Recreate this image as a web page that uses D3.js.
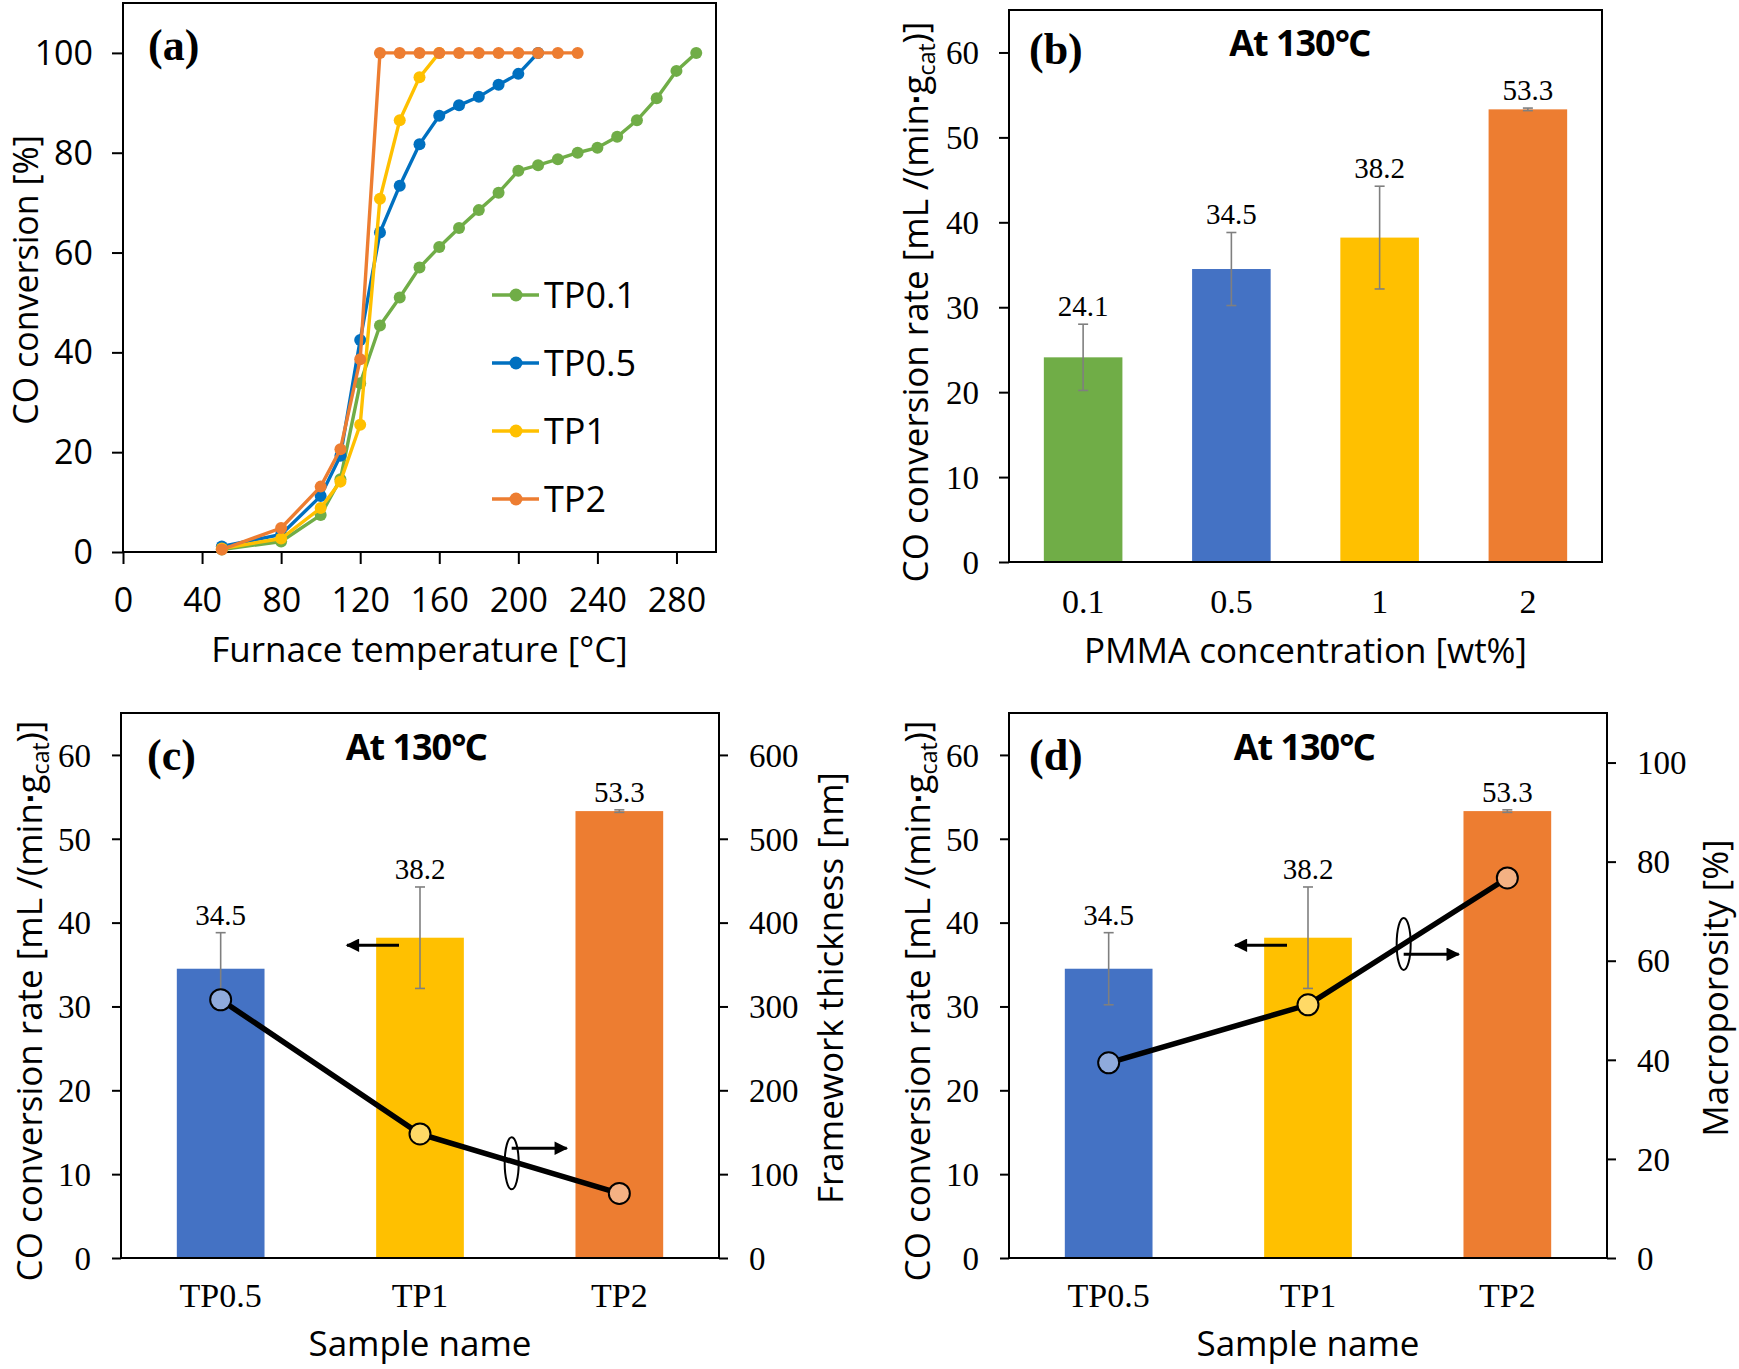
<!DOCTYPE html>
<html lang="en">
<head>
<meta charset="UTF-8">
<title>CO conversion</title>
<script src="https://cdn.jsdelivr.net/npm/d3@7"></script>
<style>
  body { margin: 0; background: #fff; }
  svg { display: block; }
</style>
</head>
<body>
<svg id="chart" width="1739" height="1369"></svg>
<script>
// ---- panel (a): CO conversion vs furnace temperature ----
const seriesNames = ['TP0.1', 'TP0.5', 'TP1', 'TP2'];
const tempTP01 = [50, 80, 100, 110, 120, 130, 140, 150, 160, 170, 180, 190, 200, 210, 220, 230, 240, 250, 260, 270, 280, 290];
const convTP01 = [0.5, 2.1, 7.4, 14.6, 33.8, 45.4, 51.0, 57.0, 61.1, 64.9, 68.5, 72.0, 76.4, 77.5, 78.7, 80.0, 81.0, 83.2, 86.5, 90.9, 96.4, 100];
const tempTP05 = [50, 80, 100, 110, 120, 130, 140, 150, 160, 170, 180, 190, 200, 210];
const convTP05 = [1.1, 3.5, 11.2, 19.3, 42.5, 64.0, 73.4, 81.7, 87.4, 89.5, 91.2, 93.6, 95.8, 100];
const tempTP1 = [50, 80, 100, 110, 120, 130, 140, 150, 160];
const convTP1 = [0.7, 2.7, 8.8, 14.1, 25.5, 70.8, 86.5, 95.1, 100];
const tempTP2 = [50, 80, 100, 110, 120, 130, 140, 150, 160, 170, 180, 190, 200, 210, 220, 230];
const convTP2 = [0.5, 4.8, 13.1, 20.6, 38.6, 100, 100, 100, 100, 100, 100, 100, 100, 100, 100, 100];
const tempTicks = [0, 40, 80, 120, 160, 200, 240, 280];
const convTicks = [0, 20, 40, 60, 80, 100];

// ---- panel (b): rate vs PMMA concentration ----
const pmmaLabels = ['0.1', '0.5', '1', '2'];
const rateAll = [24.1, 34.5, 38.2, 53.3];
const rateAllErr = [3.9, 4.3, 6.05, 0.15];
const rateTicks = [0, 10, 20, 30, 40, 50, 60];

// ---- panels (c), (d): rate vs sample, with structure data ----
const sampleNames = ['TP0.5', 'TP1', 'TP2'];
const rateSample = [34.5, 38.2, 53.3];
const rateSampleErr = [4.3, 6.05, 0.15];
const thickness = [308, 148, 77];          // nm
const thicknessTicks = [0, 100, 200, 300, 400, 500, 600];
const macroporosity = [39.4, 51.1, 76.7];  // %
const macroTicks = [0, 20, 40, 60, 80, 100];

const lineColors = ['#70AD47', '#0070C0', '#FFC000', '#ED7D31'];
const barColors = ['#70AD47', '#4472C4', '#FFC000', '#ED7D31'];
const sampleBarColors = ['#4472C4', '#FFC000', '#ED7D31'];
const sampleDotColors = ['#8FAADC', '#FFD966', '#F4B183'];

const SANS = '"Open Sans", "Noto Sans", sans-serif';
const SERIF = '"Liberation Serif", "Times New Roman", serif';

const svg = d3.select('#chart');
svg.append('rect').attr('width', 1739).attr('height', 1369).attr('fill', '#fff');

const defs = svg.append('defs');
defs.append('marker')
  .attr('id', 'head')
  .attr('viewBox', '0 0 10 10')
  .attr('refX', 9).attr('refY', 5)
  .attr('markerWidth', 5).attr('markerHeight', 4.5)
  .attr('orient', 'auto-start-reverse')
  .append('path').attr('d', 'M0,0L10,5L0,10z').attr('fill', '#000');

function styleAxis(sel, family, size) {
  sel.attr('font-family', family).attr('font-size', size);
  sel.select('.domain').remove();
  sel.selectAll('line').attr('stroke', '#000').attr('stroke-width', 2);
  sel.selectAll('text').attr('fill', '#000');
}

function frame(g, box) {
  g.append('rect')
    .attr('x', box.l).attr('y', box.t)
    .attr('width', box.r - box.l).attr('height', box.b - box.t)
    .attr('fill', 'none').attr('stroke', '#000').attr('stroke-width', 2);
}

function panelLabel(g, text, x, y) {
  g.append('text').attr('x', x).attr('y', y)
    .attr('font-family', SERIF).attr('font-weight', 'bold').attr('font-size', 44)
    .text(text);
}

function headline(g, x, y) {
  g.append('text').attr('x', x).attr('y', y).attr('text-anchor', 'middle')
    .attr('font-family', SANS).attr('font-weight', 'bold').attr('font-size', 36)
    .attr('letter-spacing', -1)
    .text('At 130\u2103');
}

function rateTitle(g, x, y) {
  const t = g.append('text')
    .attr('transform', `translate(${x},${y}) rotate(-90)`)
    .attr('text-anchor', 'middle')
    .attr('font-family', SANS).attr('font-size', 35);
  t.append('tspan').text('CO conversion rate [mL /(min');
  t.append('tspan').attr('font-weight', 'bold').text('\u2219');
  t.append('tspan').text('g');
  t.append('tspan').attr('font-size', 23).attr('dy', 7).text('cat');
  t.append('tspan').attr('dy', -7).text(')]');
}

function vTitle(g, text, x, y) {
  g.append('text')
    .attr('transform', `translate(${x},${y}) rotate(-90)`)
    .attr('text-anchor', 'middle')
    .attr('font-family', SANS).attr('font-size', 35)
    .text(text);
}

function hTitle(g, text, x, y) {
  g.append('text').attr('x', x).attr('y', y).attr('text-anchor', 'middle')
    .attr('font-family', SANS).attr('font-size', 35)
    .text(text);
}

// bars with error bars and value labels
function drawBars(g, x, y, cats, vals, errs, colors) {
  g.selectAll('rect.bar').data(cats).enter().append('rect')
    .attr('class', 'bar')
    .attr('x', d => x(d))
    .attr('width', x.bandwidth())
    .attr('y', (d, i) => y(vals[i]))
    .attr('height', (d, i) => y(0) - y(vals[i]))
    .attr('fill', (d, i) => colors[i]);

  const cx = d => x(d) + x.bandwidth() / 2;
  const eb = g.selectAll('g.err').data(cats).enter().append('g').attr('class', 'err')
    .attr('stroke', '#7F7F7F').attr('stroke-width', 1.6);
  eb.append('line')
    .attr('x1', cx).attr('x2', cx)
    .attr('y1', (d, i) => y(vals[i] - errs[i]))
    .attr('y2', (d, i) => y(vals[i] + errs[i]));
  [-1, 1].forEach(s => {
    eb.append('line')
      .attr('x1', d => cx(d) - 5).attr('x2', d => cx(d) + 5)
      .attr('y1', (d, i) => y(vals[i] + s * errs[i]))
      .attr('y2', (d, i) => y(vals[i] + s * errs[i]));
  });

  g.selectAll('text.val').data(cats).enter().append('text')
    .attr('class', 'val')
    .attr('x', cx)
    .attr('y', (d, i) => y(vals[i] + errs[i]) - 8)
    .attr('text-anchor', 'middle')
    .attr('font-family', SERIF).attr('font-size', 29)
    .text((d, i) => vals[i].toFixed(1));
}

function categoryAxis(g, x, yPos, labelOffset) {
  const ax = g.append('g').attr('transform', `translate(0,${yPos})`)
    .call(d3.axisBottom(x).tickSize(0))
    .call(styleAxis, SERIF, 34);
  ax.selectAll('text').attr('dy', null).attr('y', labelOffset);
}

function leftAxis(g, y, xPos, ticks, family, size, len) {
  const ax = g.append('g').attr('transform', `translate(${xPos},0)`)
    .call(d3.axisLeft(y).tickValues(ticks).tickSize(len).tickPadding(30 - len))
    .call(styleAxis, family, size);
  ax.selectAll('text').attr('dy', '0.34em');
  return ax;
}

function rightAxis(g, y, xPos, ticks) {
  const ax = g.append('g').attr('transform', `translate(${xPos},0)`)
    .call(d3.axisRight(y).tickValues(ticks).tickSize(9).tickPadding(21))
    .call(styleAxis, SERIF, 33);
  ax.selectAll('text').attr('dy', '0.34em');
}

// ================= (a) =================
{
  const box = { l: 123, r: 716, t: 3, b: 552 };
  const g = svg.append('g');
  const x = d3.scaleLinear().domain([0, 300]).range([box.l, box.r]);
  const y = d3.scaleLinear().domain([0, 110]).range([box.b, box.t]);

  const xa = g.append('g').attr('transform', `translate(0,${box.b})`)
    .call(d3.axisBottom(x).tickValues(tempTicks).tickSize(12))
    .call(styleAxis, SANS, 34);
  xa.selectAll('text').attr('dy', null).attr('y', 60);
  leftAxis(g, y, box.l, convTicks, SANS, 34, 11);
  frame(g, box);

  const temps = [tempTP01, tempTP05, tempTP1, tempTP2];
  const convs = [convTP01, convTP05, convTP1, convTP2];
  const line = d3.line().x(d => x(d[0])).y(d => y(d[1]));
  seriesNames.forEach((name, i) => {
    const pts = d3.zip(temps[i], convs[i]);
    g.append('path').datum(pts).attr('d', line)
      .attr('fill', 'none').attr('stroke', lineColors[i]).attr('stroke-width', 3.4);
    g.selectAll(null).data(pts).enter().append('circle')
      .attr('cx', d => x(d[0])).attr('cy', d => y(d[1])).attr('r', 6)
      .attr('fill', lineColors[i]);
  });

  // legend
  const leg = g.append('g').attr('transform', 'translate(492,295)');
  seriesNames.forEach((name, i) => {
    const row = leg.append('g').attr('transform', `translate(0,${i * 68})`);
    row.append('line').attr('x1', 0).attr('x2', 47).attr('stroke', lineColors[i]).attr('stroke-width', 3.4);
    row.append('circle').attr('cx', 24).attr('r', 6.5).attr('fill', lineColors[i]);
    row.append('text').attr('x', 52).attr('dy', '0.36em')
      .attr('font-family', SANS).attr('font-size', 36).text(name);
  });

  panelLabel(g, '(a)', 148, 60);
  g.append('text')
    .attr('transform', 'translate(38,280) rotate(-90)')
    .attr('text-anchor', 'middle')
    .attr('font-family', SANS).attr('font-size', 34)
    .text('CO conversion [%]');
  hTitle(g, 'Furnace temperature [\u00B0C]', (box.l + box.r) / 2, 662);
}

// ================= (b) =================
{
  const box = { l: 1009, r: 1602, t: 10, b: 562 };
  const g = svg.append('g');
  const x = d3.scaleBand().domain(pmmaLabels).range([box.l, box.r]).paddingInner(0.47).paddingOuter(0.235);
  const y = d3.scaleLinear().domain([0, 65]).range([box.b, box.t]);

  drawBars(g, x, y, pmmaLabels, rateAll, rateAllErr, barColors);
  leftAxis(g, y, box.l, rateTicks, SERIF, 33, 10);
  categoryAxis(g, x, box.b, 51);
  frame(g, box);

  panelLabel(g, '(b)', 1029, 64);
  headline(g, (box.l + box.r) / 2 - 6, 56);
  rateTitle(g, 928, 302);
  hTitle(g, 'PMMA concentration [wt%]', (box.l + box.r) / 2, 663);
}

// ============ (c) and (d) ============
function samplePanel(box, rightVals, rightDomain, rightTicks, rightName, rightTitleX, opts) {
  const g = svg.append('g');
  const x = d3.scaleBand().domain(sampleNames).range([box.l, box.r]).paddingInner(0.56).paddingOuter(0.28);
  const y = d3.scaleLinear().domain([0, 65]).range([box.b, box.t]);
  const yR = d3.scaleLinear().domain(rightDomain).range([box.b, box.t]);
  const cx = d => x(d) + x.bandwidth() / 2;

  drawBars(g, x, y, sampleNames, rateSample, rateSampleErr, sampleBarColors);
  leftAxis(g, y, box.l, rateTicks, SERIF, 33, 9);
  rightAxis(g, yR, box.r, rightTicks);
  categoryAxis(g, x, box.b, 49);
  frame(g, box);

  // secondary-axis line
  const pts = sampleNames.map((s, i) => [cx(s), yR(rightVals[i])]);
  g.append('path').datum(pts).attr('d', d3.line())
    .attr('fill', 'none').attr('stroke', '#000').attr('stroke-width', 5.5);
  g.selectAll(null).data(pts).enter().append('circle')
    .attr('cx', d => d[0]).attr('cy', d => d[1]).attr('r', 10.5)
    .attr('fill', (d, i) => sampleDotColors[i])
    .attr('stroke', '#000').attr('stroke-width', 2);

  // axis pointers
  const step = x.step();
  const c1 = cx('TP1');
  g.append('line')
    .attr('x1', c1 - 21).attr('x2', c1 - 73)
    .attr('y1', y(37.3)).attr('y2', y(37.3))
    .attr('stroke', '#000').attr('stroke-width', 3).attr('marker-end', 'url(#head)');
  const ex = c1 + opts.loopAt * step;
  g.append('ellipse')
    .attr('cx', ex).attr('cy', yR(opts.loopValue))
    .attr('rx', 7).attr('ry', 26)
    .attr('fill', 'none').attr('stroke', '#000').attr('stroke-width', 2);
  g.append('line')
    .attr('x1', ex).attr('x2', ex + 55)
    .attr('y1', yR(opts.arrowValue)).attr('y2', yR(opts.arrowValue))
    .attr('stroke', '#000').attr('stroke-width', 3).attr('marker-end', 'url(#head)');

  panelLabel(g, opts.label, opts.labelX, 770);
  headline(g, (box.l + box.r) / 2 - 4, 760);
  rateTitle(g, opts.leftTitleX, 1001);
  vTitle(g, rightName, rightTitleX, 988);
  hTitle(g, 'Sample name', (box.l + box.r) / 2, 1356);
}

samplePanel({ l: 121, r: 719, t: 713, b: 1258 }, thickness, [0, 650], thicknessTicks,
  'Framework thickness [nm]', 843,
  { label: '(c)', labelX: 147, leftTitleX: 42, loopAt: 0.46, loopValue: 113, arrowValue: 131 });

samplePanel({ l: 1009, r: 1607, t: 713, b: 1258 }, macroporosity, [0, 110], macroTicks,
  'Macroporosity [%]', 1728,
  { label: '(d)', labelX: 1029, leftTitleX: 930, loopAt: 0.48, loopValue: 63.4, arrowValue: 61.3 });
</script>
</body>
</html>
